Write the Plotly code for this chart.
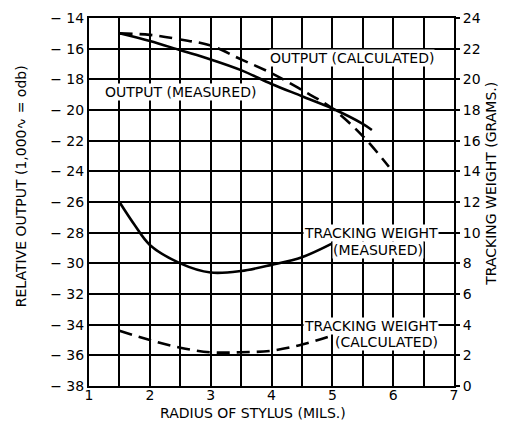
import plotly.graph_objects as go

# Data
x_out_meas = [1.5, 2.0, 2.5, 3.0, 3.5, 4.0, 4.5, 5.0, 5.5, 5.65]
out_meas = [-15.0, -15.5, -16.1, -16.7, -17.4, -18.3, -19.1, -19.9, -20.9, -21.3]

x_out_calc = [1.5, 2.0, 2.5, 3.0, 3.5, 4.0, 4.5, 5.0, 5.5, 5.93]
out_calc = [-15.0, -15.1, -15.4, -15.8, -16.7, -17.6, -18.7, -19.9, -21.7, -23.7]

x_tw_meas = [1.5, 1.75, 2.0, 2.5, 3.0, 3.5, 4.0, 4.5, 5.0]
tw_meas = [12.0, 10.5, 9.2, 8.0, 7.4, 7.5, 7.9, 8.4, 9.3]

x_tw_calc = [1.5, 2.0, 2.5, 3.0, 3.5, 4.0, 4.5, 5.0]
tw_calc = [3.6, 3.0, 2.5, 2.2, 2.2, 2.3, 2.7, 3.3]

left_ticks = list(range(-38, -13, 2))
right_ticks = list(range(0, 25, 2))
x_ticks = [1, 2, 3, 4, 5, 6, 7]

FONT = "DejaVu Sans"
ink = "black"

fig = go.Figure()
fig.add_trace(go.Scatter(x=x_out_meas, y=out_meas, mode="lines", line=dict(color=ink, width=2.6, shape="spline"), showlegend=False))
fig.add_trace(go.Scatter(x=x_out_calc, y=out_calc, mode="lines", line=dict(color=ink, width=2.6, dash="13px,7px", shape="spline"), showlegend=False))
fig.add_trace(go.Scatter(x=x_tw_meas, y=tw_meas, mode="lines", yaxis="y2", line=dict(color=ink, width=2.6, shape="spline"), showlegend=False))
fig.add_trace(go.Scatter(x=x_tw_calc, y=tw_calc, mode="lines", yaxis="y2", line=dict(color=ink, width=2.6, dash="13px,7px", shape="spline"), showlegend=False))

ann_font = dict(family=FONT, size=14, color=ink)
annots = [
    ("OUTPUT (CALCULATED)", 5.33, -16.6),
    ("OUTPUT (MEASURED)", 2.5, -18.8),
    ("TRACKING WEIGHT", 5.64, -28.0),
    ("(MEASURED)", 5.75, -29.1),
    ("TRACKING WEIGHT", 5.64, -34.1),
    ("(CALCULATED)", 5.89, -35.1),
]
for t, ax_, ay_ in annots:
    fig.add_annotation(x=ax_, y=ay_, xref="x", yref="y", text=t, showarrow=False,
                       font=ann_font, bgcolor="white", borderpad=0)

title_font = dict(family=FONT, size=14, color=ink)
fig.add_annotation(x=-0.186, y=0.543, xref="paper", yref="paper", text="RELATIVE OUTPUT (1,000\u223F = odb)",
                   textangle=-90, showarrow=False, font=title_font, xanchor="center", yanchor="middle")
fig.add_annotation(x=1.101, y=0.549, xref="paper", yref="paper", text="TRACKING WEIGHT (GRAMS.)",
                   textangle=-90, showarrow=False, font=title_font, xanchor="center", yanchor="middle")
fig.add_annotation(x=0.449, y=-0.074, xref="paper", yref="paper", text="RADIUS OF STYLUS (MILS.)",
                   showarrow=False, font=title_font, xanchor="center", yanchor="middle")

fig.update_layout(
    width=524, height=424,
    margin=dict(l=81, r=78, t=10, b=46),
    paper_bgcolor="white", plot_bgcolor="white",
    font=dict(family=FONT, color=ink, size=13),
    xaxis=dict(range=[1, 7], tickvals=x_ticks, ticktext=[str(v) for v in x_ticks],
               showgrid=True, gridcolor=ink, gridwidth=1.6, automargin=False,
               minor=dict(dtick=0.5, tick0=1, showgrid=True, gridcolor=ink, gridwidth=1.6),
               showline=True, linecolor=ink, linewidth=2, mirror=True, zeroline=False,
               ticks="", tickfont=dict(size=14), ticklabelstandoff=-5),
    yaxis=dict(range=[-38, -14], tickvals=left_ticks, ticktext=["\u2212 " + str(-v) for v in left_ticks],
               showgrid=True, gridcolor=ink, gridwidth=1.6, zeroline=False, automargin=False,
               showline=True, linecolor=ink, linewidth=2, ticks="", tickfont=dict(size=14)),
    yaxis2=dict(range=[0, 24], tickvals=right_ticks, overlaying="y", side="right",
                showgrid=False, zeroline=False, showline=True, linecolor=ink, linewidth=2,
                automargin=False,
                ticks="outside", ticklen=4, tickcolor=ink, tickwidth=1.5, tickfont=dict(size=14)),
)

fig.write_html("out.html")
